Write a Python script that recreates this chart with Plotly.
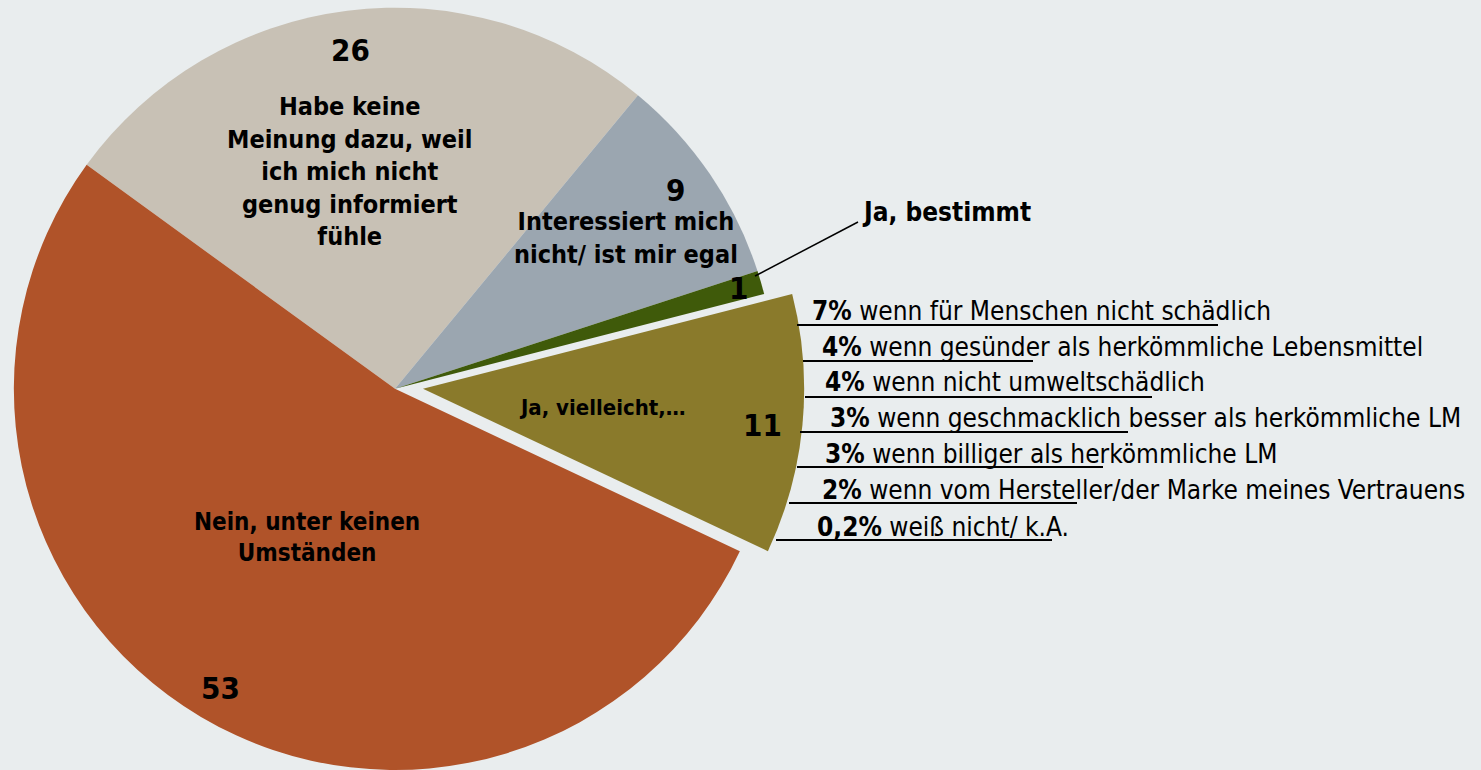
import plotly.graph_objects as go

W, H = 1481, 770
BG = "#E9EDEE"
FONT = "Verdana, 'DejaVu Sans Condensed', 'DejaVu Sans', sans-serif"

# pie slices, clockwise starting from the beige one
slice_labels = [
    "Habe keine Meinung dazu, weil ich mich nicht genug informiert fühle",
    "Interessiert mich nicht/ ist mir egal",
    "Ja, bestimmt",
    "Ja, vielleicht,…",
    "Nein, unter keinen Umständen",
]
slice_values = [26, 9, 1, 11, 53]
slice_colors = ["#C8C1B5", "#9BA6B0", "#3F5A0A", "#8A7A2B", "#B05329"]

# breakdown of "Ja, vielleicht"
detail_pct = ["7%", "4%", "4%", "3%", "3%", "2%", "0,2%"]
detail_text = [
    "wenn für Menschen nicht schädlich",
    "wenn gesünder als herkömmliche Lebensmittel",
    "wenn nicht umweltschädlich",
    "wenn geschmacklich besser als herkömmliche LM",
    "wenn billiger als herkömmliche LM",
    "wenn vom Hersteller/der Marke meines Vertrauens",
    "weiß nicht/ k.A.",
]


def fx(x):
    return x / W


def fy(y):
    return 1 - y / H


PIE_CX, PIE_R = 395, 385
PULL_PX = 28
base_dom = dict(x=[fx(PIE_CX - PIE_R), fx(PIE_CX + PIE_R)], y=[0, 0.99])
pulled_dom = dict(x=[fx(PIE_CX - PIE_R + PULL_PX), fx(PIE_CX + PIE_R + PULL_PX)], y=[0, 0.99])

pulled = 3
base_colors = [c if i != pulled else "rgba(0,0,0,0)" for i, c in enumerate(slice_colors)]
top_colors = [c if i == pulled else "rgba(0,0,0,0)" for i, c in enumerate(slice_colors)]

PIE_COMMON = dict(
    labels=slice_labels,
    values=slice_values,
    sort=False,
    direction="clockwise",
    rotation=-54,
    textinfo="none",
    showlegend=False,
)

fig = go.Figure()
fig.add_trace(
    go.Pie(
        **PIE_COMMON,
        domain=base_dom,
        marker=dict(colors=base_colors, line=dict(width=0)),
        hovertemplate="<b>%{label}</b><br>%{value}<extra></extra>",
    )
)
fig.add_trace(
    go.Pie(
        **PIE_COMMON,
        domain=pulled_dom,
        marker=dict(colors=top_colors, line=dict(width=0)),
        hoverinfo="skip",
    )
)

annotations = []


def label(text, x, y, size, anchor="center"):
    annotations.append(
        dict(
            text=text,
            x=fx(x),
            y=fy(y),
            xref="paper",
            yref="paper",
            xanchor=anchor,
            yanchor="middle",
            showarrow=False,
            font=dict(size=size, color="#000000", family=FONT),
        )
    )


NUM, LBL = 31, 25

# slice labels
label("<b>26</b>", 350, 50, NUM)
label("<b>Habe keine<br>Meinung dazu, weil<br>ich mich nicht<br>genug informiert<br>fühle</b>", 350, 172, LBL)
label("<b>9</b>", 675, 190, NUM)
label("<b>Interessiert mich<br>nicht/ ist mir egal</b>", 626, 238, LBL)
label("<b>1</b>", 738, 288, NUM)
label("<b>Ja, bestimmt</b>", 860, 212, 26, anchor="left")
label("<b>Ja, vielleicht,…</b>", 602, 408, 22)
label("<b>11</b>", 762, 425, NUM)
label("<b>Nein, unter keinen<br>Umständen</b>", 307, 537, 24)
label("<b>53</b>", 220, 688, NUM)

shapes = [
    dict(type="line", xref="paper", yref="paper",
         x0=fx(755), y0=fy(276), x1=fx(858), y1=fy(222),
         line=dict(color="#000000", width=1.5))
]

# breakdown list with partial underlines
detail_x = [810, 820, 823, 828, 823, 820, 815]
detail_y = [311, 347, 382, 418, 454, 490, 527]
line_x0 = [797, 803, 805, 800, 797, 789, 776]
line_x1 = [1218, 1033, 1152, 1128, 1103, 1077, 1052]
line_y = [325, 361, 397, 432, 467, 503, 540]
for pct, txt, x, y in zip(detail_pct, detail_text, detail_x, detail_y):
    label(f"<b>{pct}</b> {txt}", x, y, 26, anchor="left")
for x0, x1, y in zip(line_x0, line_x1, line_y):
    shapes.append(
        dict(type="line", xref="paper", yref="paper",
             x0=fx(x0), y0=fy(y), x1=fx(x1), y1=fy(y),
             line=dict(color="#000000", width=2))
    )

fig.update_layout(
    width=W,
    height=H,
    margin=dict(l=0, r=0, t=0, b=0),
    paper_bgcolor=BG,
    plot_bgcolor=BG,
    font=dict(family=FONT, color="#000000"),
    annotations=annotations,
    shapes=shapes,
)

fig.write_html(
    "out.html",
    config={"displayModeBar": False},
    post_script="document.body.style.margin='0';document.body.style.background='%s';" % BG,
)
